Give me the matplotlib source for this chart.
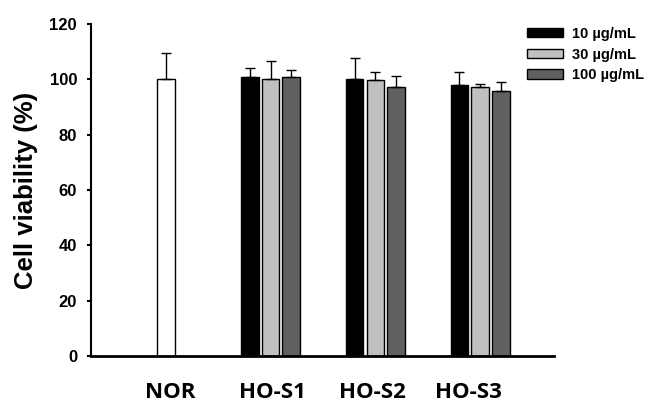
import matplotlib
matplotlib.use('Agg')
import matplotlib.pyplot as plt
import numpy as np

plt.rcParams['font.family'] = ['Liberation Sans', 'DejaVu Sans']

groups = ['NOR', 'HO-S1', 'HO-S2', 'HO-S3']
doses = ['10 \u00b5g/mL', '30 \u00b5g/mL', '100 \u00b5g/mL']

nor_mean = 100.0
nor_err = 9.5

# rows: HO-S1, HO-S2, HO-S3 ; cols: 10, 30, 100 ug/mL
means = np.array([[100.7, 100.0, 101.0],
                  [100.3, 99.6, 97.1],
                  [97.9, 97.1, 95.9]])
errs = np.array([[3.3, 6.8, 2.2],
                 [7.3, 2.9, 4.0],
                 [4.6, 1.1, 3.2]])

colors = ['#000000', '#c0c0c0', '#606060']

fig = plt.figure(figsize=(6.67, 4.08), dpi=100)
ax = fig.add_axes([91/667, 1-356/408, (554-91)/667, (356-24)/408])

width = 0.167
step = 0.197
ekw = dict(elinewidth=1, capthick=1, ecolor='black')

ax.bar(0, nor_mean, width, color='white', edgecolor='black', linewidth=1,
       yerr=[[0], [nor_err]], capsize=3.5, error_kw=ekw)

x = np.arange(1, 4)
for j in range(3):
    ax.bar(x + (j - 1) * step, means[:, j], width, color=colors[j],
           edgecolor='black', linewidth=1, label=doses[j],
           yerr=[np.zeros(3), errs[:, j]], capsize=3.5, error_kw=ekw)

ax.set_xlim(-0.714, 3.705)
ax.set_ylim(0, 120)
ax.set_yticks(np.arange(0, 121, 20))
# labels in the original sit slightly closer together than the bar groups
ax.set_xticks([0.04, 1.02, 1.97, 2.89])
ax.set_xticklabels(groups, family=['Open Sans', 'DejaVu Sans'],
                   fontweight='bold', fontsize=16)
ax.tick_params(axis='x', length=0, pad=19)
ax.tick_params(axis='y', length=3, width=1.5, labelsize=12, pad=7)
for lab in ax.get_yticklabels():
    lab.set_fontweight('bold')

ax.spines['top'].set_visible(False)
ax.spines['right'].set_visible(False)
ax.spines['left'].set_linewidth(1.5)
ax.spines['bottom'].set_linewidth(2)

ax.set_ylabel('Cell viability (%)', fontsize=18.5, fontweight='bold', labelpad=8)

leg = ax.legend(loc='upper left', bbox_to_anchor=(527/667, 1-27/408),
                bbox_transform=fig.transFigure, frameon=False,
                prop={'weight': 'bold', 'size': 10.5}, handlelength=2.5,
                handleheight=0.6, labelspacing=0.45, handletextpad=0.6,
                borderaxespad=0, borderpad=0)

fig.savefig('out.png', dpi=100)
